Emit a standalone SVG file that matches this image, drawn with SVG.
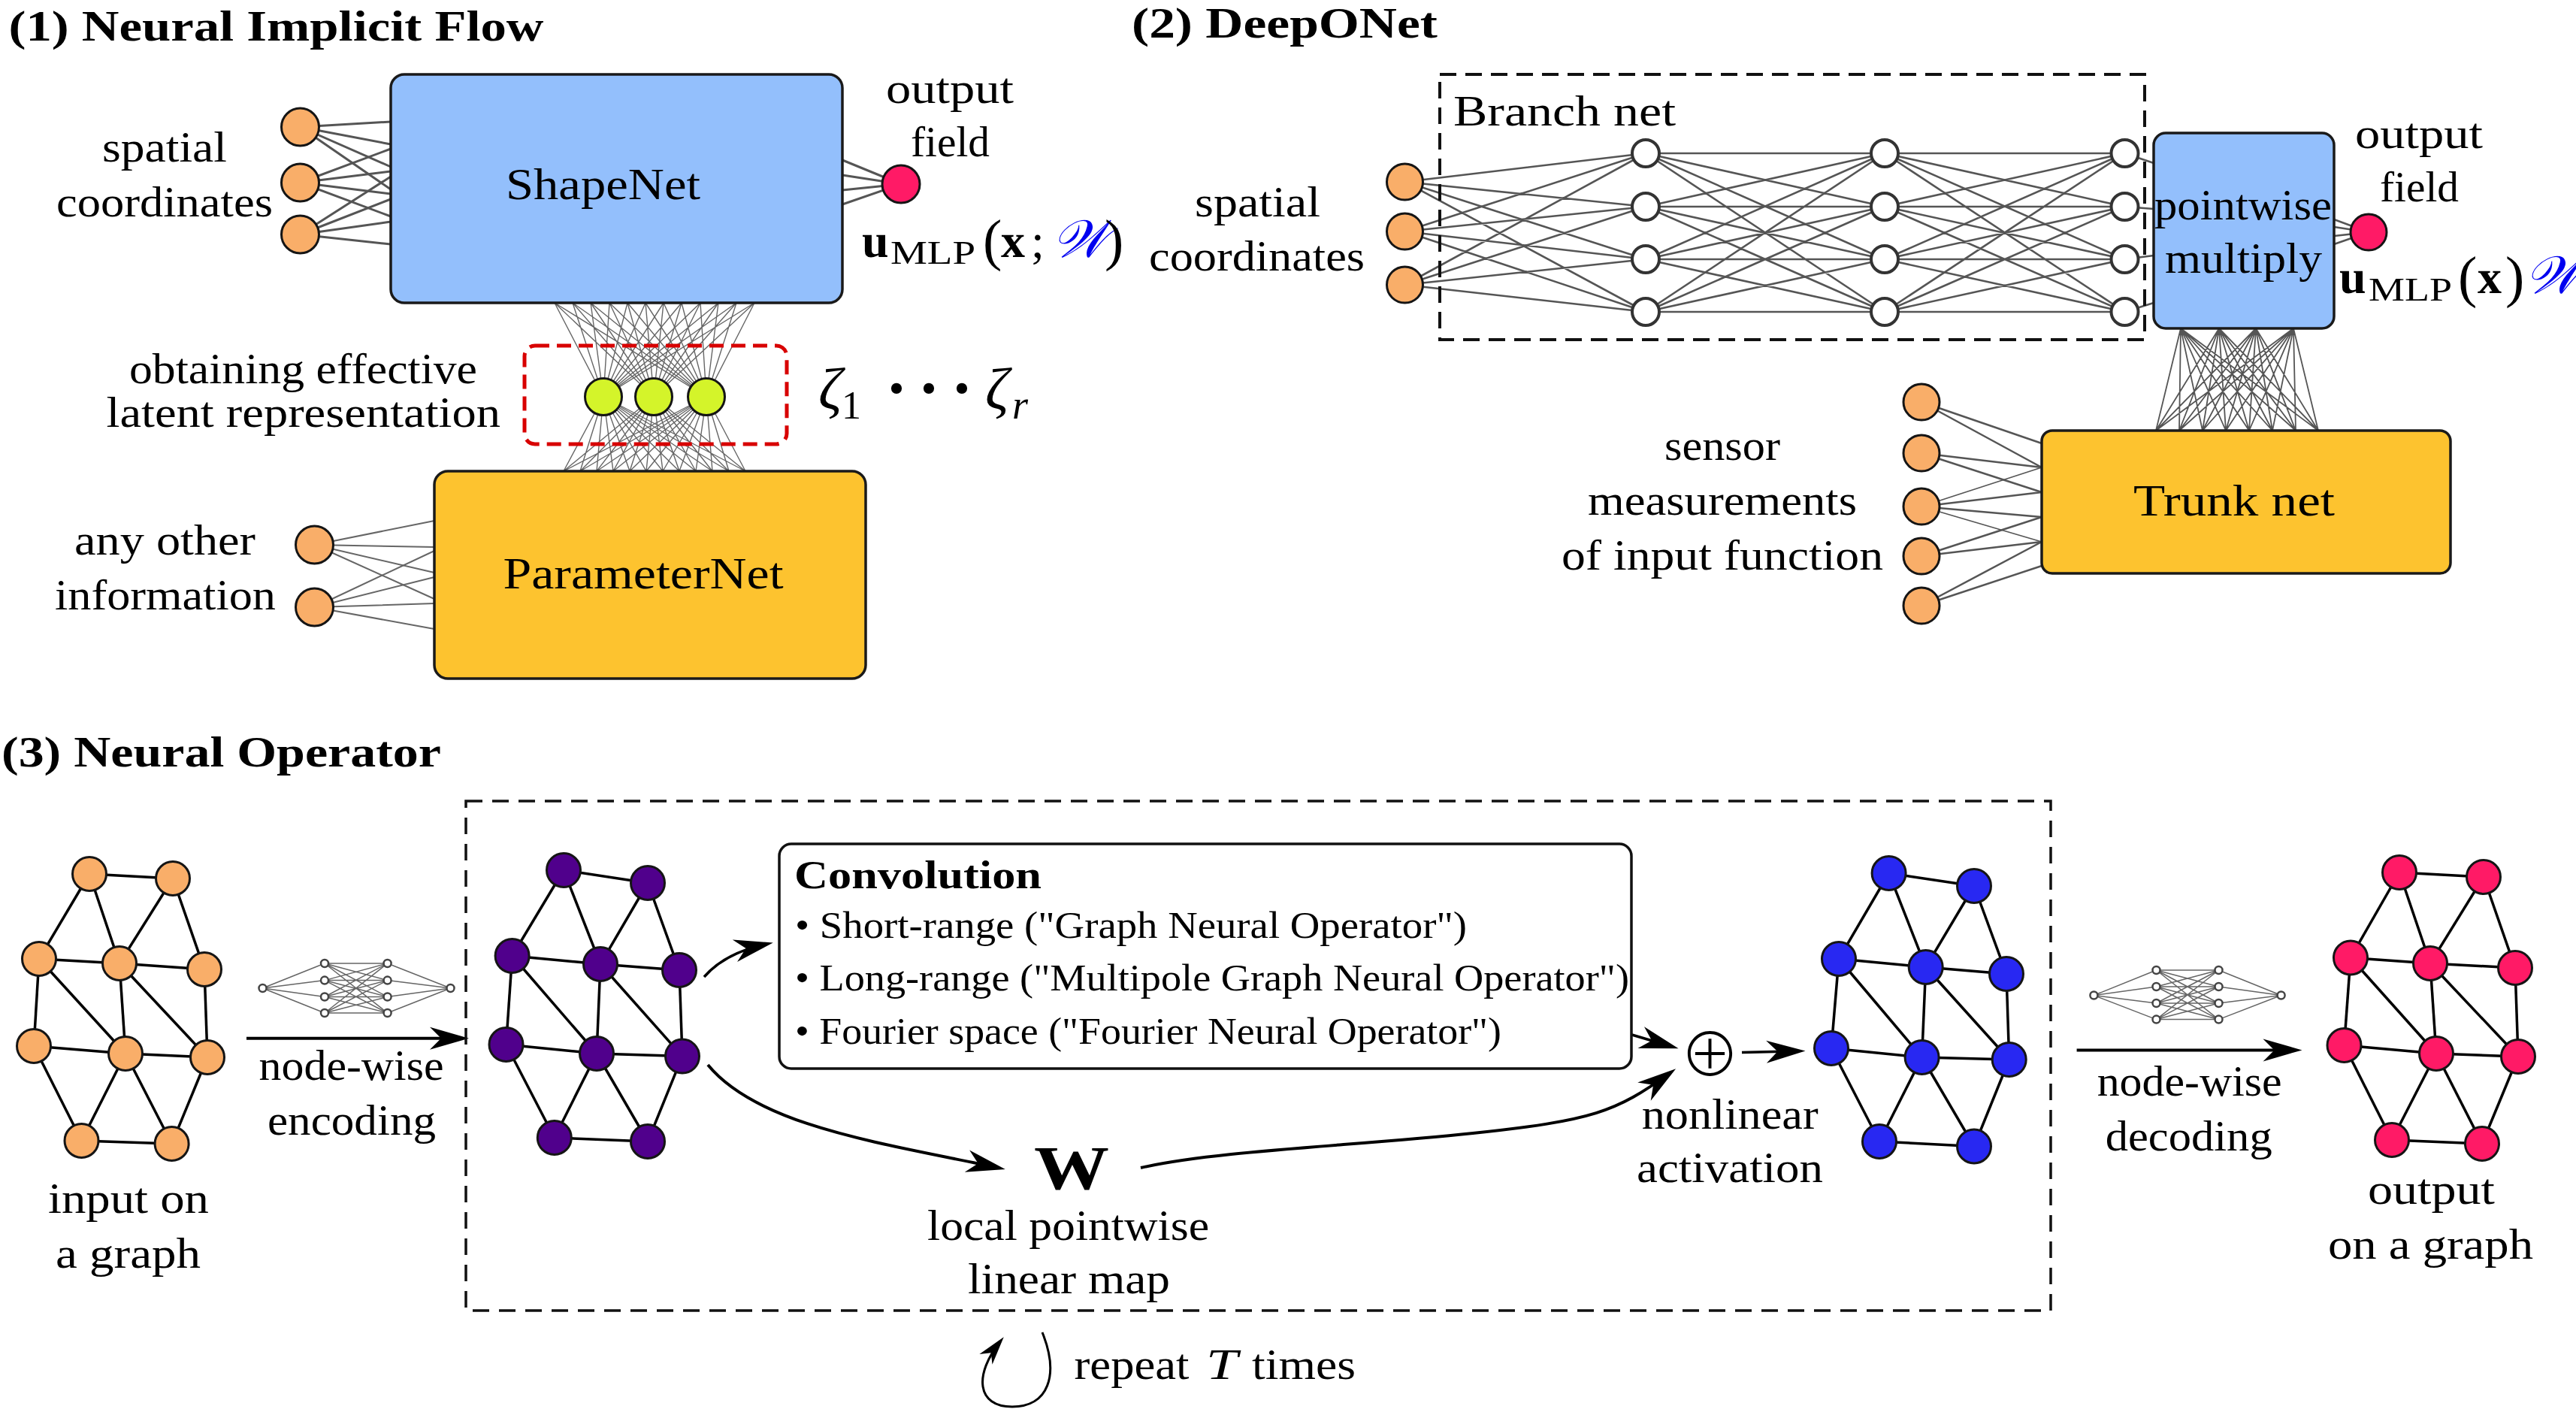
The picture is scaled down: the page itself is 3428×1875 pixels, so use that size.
<svg xmlns="http://www.w3.org/2000/svg" width="3428" height="1875" viewBox="0 0 3428 1875">
<style>
.t{font-family:"Liberation Serif",serif;font-size:56px;fill:#000}
.b{font-weight:bold}
.nn{stroke:#555;stroke-width:3;fill:none;stroke-linecap:round}
.fan{stroke:#666;stroke-width:1.4;fill:none}
.mini{stroke:#666;stroke-width:1.5;fill:none}
.edge{stroke:#000;stroke-width:3.5}
.arr{stroke:#000;stroke-width:4;fill:none}
.nd{stroke:#151515;stroke-width:3}
.org{fill:#F9AE69}
.pnk{fill:#FF1A66}
.grn{fill:#D4F42A}
.pur{fill:#50008C}
.blu{fill:#2828F2}
.wht{fill:#fff;stroke:#333;stroke-width:4}
.mn{fill:#fff;stroke:#444;stroke-width:2.5}
.box{stroke:#1a1a1a;stroke-width:3.5}
</style>
<defs>
<marker id="st" markerUnits="userSpaceOnUse" markerWidth="70" markerHeight="40" viewBox="-60 -20 70 40" refX="-10" refY="0" orient="auto">
<path d="M0,0 L-52,-15 L-37,0 L-52,15 Z" fill="#000"/>
</marker>
<marker id="st2" markerUnits="userSpaceOnUse" markerWidth="50" markerHeight="30" viewBox="-45 -15 50 30" refX="-6" refY="0" orient="auto">
<path d="M0,0 L-38,-11 L-27,0 L-38,11 Z" fill="#000"/>
</marker>
</defs>
<rect width="3428" height="1875" fill="#fff"/>

<g id="connectors">
<!-- panel 1 -->
<g class="nn">
<line x1="399.5" y1="169" x2="520" y2="162"/><line x1="399.5" y1="169" x2="520" y2="192"/><line x1="399.5" y1="169" x2="520" y2="222"/><line x1="399.5" y1="169" x2="520" y2="252"/>
<line x1="399.5" y1="243" x2="520" y2="198"/><line x1="399.5" y1="243" x2="520" y2="228"/><line x1="399.5" y1="243" x2="520" y2="258"/><line x1="399.5" y1="243" x2="520" y2="288"/>
<line x1="399.5" y1="312" x2="520" y2="235"/><line x1="399.5" y1="312" x2="520" y2="265"/><line x1="399.5" y1="312" x2="520" y2="295"/><line x1="399.5" y1="312" x2="520" y2="325"/>
<line x1="1121" y1="213" x2="1199" y2="245"/><line x1="1121" y1="233" x2="1199" y2="245"/><line x1="1121" y1="253" x2="1199" y2="245"/><line x1="1121" y1="272" x2="1199" y2="245"/>
</g>
<g class="nn" style="stroke:#666;stroke-width:2">
<line x1="418.5" y1="725" x2="578" y2="693"/><line x1="418.5" y1="725" x2="578" y2="728"/><line x1="418.5" y1="725" x2="578" y2="762"/><line x1="418.5" y1="725" x2="578" y2="797"/>
<line x1="418.5" y1="808" x2="578" y2="733"/><line x1="418.5" y1="808" x2="578" y2="768"/><line x1="418.5" y1="808" x2="578" y2="803"/><line x1="418.5" y1="808" x2="578" y2="837"/>
</g>
<path class="fan" d="M803 528L738 403L870 528M940 528L738 403M803 528L762 403L870 528M940 528L762 403M803 528L786 403L870 528M940 528L786 403M803 528L811 403L870 528M940 528L811 403M803 528L835 403L870 528M940 528L835 403M803 528L859 403L870 528M940 528L859 403M803 528L883 403L870 528M940 528L883 403M803 528L907 403L870 528M940 528L907 403M803 528L932 403L870 528M940 528L932 403M803 528L956 403L870 528M940 528L956 403M803 528L980 403L870 528M940 528L980 403M803 528L1004 403L870 528M940 528L1004 403"/>
<path class="fan" d="M803 528L750 627L870 528M940 528L750 627M803 528L772 627L870 528M940 528L772 627M803 528L794 627L870 528M940 528L794 627M803 528L816 627L870 528M940 528L816 627M803 528L838 627L870 528M940 528L838 627M803 528L860 627L870 528M940 528L860 627M803 528L882 627L870 528M940 528L882 627M803 528L904 627L870 528M940 528L904 627M803 528L926 627L870 528M940 528L926 627M803 528L948 627L870 528M940 528L948 627M803 528L970 627L870 528M940 528L970 627M803 528L992 627L870 528M940 528L992 627"/>
<!-- panel 2 branch -->
<path class="nn" style="stroke-width:2.6" d="M1869.5 242L2190 204L1869.5 308M1869.5 379L2190 204M1869.5 242L2190 275L1869.5 308M1869.5 379L2190 275M1869.5 242L2190 345L1869.5 308M1869.5 379L2190 345M1869.5 242L2190 415L1869.5 308M1869.5 379L2190 415
M2190 204L2508 204L2190 275M2190 345L2508 204L2190 415M2190 204L2508 275L2190 275M2190 345L2508 275L2190 415M2190 204L2508 345L2190 275M2190 345L2508 345L2190 415M2190 204L2508 415L2190 275M2190 345L2508 415L2190 415
M2508 204L2827.5 204L2508 275M2508 345L2827.5 204L2508 415M2508 204L2827.5 275L2508 275M2508 345L2827.5 275L2508 415M2508 204L2827.5 345L2508 275M2508 345L2827.5 345L2508 415M2508 204L2827.5 415L2508 275M2508 345L2827.5 415L2508 415
M2827.5 204L2866 217M2827.5 275L2866 278M2827.5 345L2866 340M2827.5 415L2866 403"/>
<g class="nn" style="stroke-width:2.5">
<line x1="3106" y1="292" x2="3152" y2="309"/><line x1="3106" y1="302" x2="3152" y2="309"/><line x1="3106" y1="314" x2="3152" y2="309"/><line x1="3106" y1="325" x2="3152" y2="309"/>
<line x1="2557" y1="535" x2="2717" y2="590"/><line x1="2557" y1="535" x2="2717" y2="622"/>
<line x1="2557" y1="603" x2="2717" y2="622"/><line x1="2557" y1="603" x2="2717" y2="655"/>
<line x1="2557" y1="674" x2="2717" y2="622" style="stroke-width:1.6"/><line x1="2557" y1="674" x2="2717" y2="655"/><line x1="2557" y1="674" x2="2717" y2="688"/><line x1="2557" y1="674" x2="2717" y2="721" style="stroke-width:1.6"/>
<line x1="2557" y1="740" x2="2717" y2="688"/><line x1="2557" y1="740" x2="2717" y2="721"/>
<line x1="2557" y1="806" x2="2717" y2="721"/><line x1="2557" y1="806" x2="2717" y2="753"/>
</g>
<path class="fan" style="stroke:#555;stroke-width:1.8" d="M2869 573L2902 437L2900 573M2931 573L2902 437L2962 573M2993 573L2902 437L3024 573M3055 573L2902 437L3085 573
M2869 573L2953 437L2900 573M2931 573L2953 437L2962 573M2993 573L2953 437L3024 573M3055 573L2953 437L3085 573
M2869 573L3002 437L2900 573M2931 573L3002 437L2962 573M2993 573L3002 437L3024 573M3055 573L3002 437L3085 573
M2869 573L3052 437L2900 573M2931 573L3052 437L2962 573M2993 573L3052 437L3024 573M3055 573L3052 437L3085 573"/>
<!-- panel 3 graph edges -->
<g class="edge">
<line x1="119" y1="1163" x2="230" y2="1169"/><line x1="119" y1="1163" x2="52" y2="1276"/><line x1="119" y1="1163" x2="159" y2="1282"/><line x1="230" y1="1169" x2="159" y2="1282"/><line x1="230" y1="1169" x2="272" y2="1290"/><line x1="52" y1="1276" x2="159" y2="1282"/><line x1="159" y1="1282" x2="272" y2="1290"/><line x1="52" y1="1276" x2="45" y2="1392"/><line x1="52" y1="1276" x2="167" y2="1402"/><line x1="159" y1="1282" x2="167" y2="1402"/><line x1="159" y1="1282" x2="276" y2="1407"/><line x1="272" y1="1290" x2="276" y2="1407"/><line x1="45" y1="1392" x2="167" y2="1402"/><line x1="167" y1="1402" x2="276" y2="1407"/><line x1="45" y1="1392" x2="108.5" y2="1518"/><line x1="167" y1="1402" x2="108.5" y2="1518"/><line x1="167" y1="1402" x2="228.6" y2="1522"/><line x1="276" y1="1407" x2="228.6" y2="1522"/><line x1="108.5" y1="1518" x2="228.6" y2="1522"/>
<line x1="750" y1="1158" x2="862" y2="1175"/><line x1="750" y1="1158" x2="681.6" y2="1272"/><line x1="750" y1="1158" x2="799" y2="1283"/><line x1="862" y1="1175" x2="799" y2="1283"/><line x1="862" y1="1175" x2="904" y2="1291"/><line x1="681.6" y1="1272" x2="799" y2="1283"/><line x1="799" y1="1283" x2="904" y2="1291"/><line x1="681.6" y1="1272" x2="673.5" y2="1390"/><line x1="681.6" y1="1272" x2="794" y2="1402"/><line x1="799" y1="1283" x2="794" y2="1402"/><line x1="799" y1="1283" x2="908" y2="1405.6"/><line x1="904" y1="1291" x2="908" y2="1405.6"/><line x1="673.5" y1="1390" x2="794" y2="1402"/><line x1="794" y1="1402" x2="908" y2="1405.6"/><line x1="673.5" y1="1390" x2="737.8" y2="1514"/><line x1="794" y1="1402" x2="737.8" y2="1514"/><line x1="794" y1="1402" x2="862" y2="1519"/><line x1="908" y1="1405.6" x2="862" y2="1519"/><line x1="737.8" y1="1514" x2="862" y2="1519"/>
<line x1="2513.6" y1="1162" x2="2627" y2="1179"/><line x1="2513.6" y1="1162" x2="2447" y2="1276"/><line x1="2513.6" y1="1162" x2="2562.7" y2="1287"/><line x1="2627" y1="1179" x2="2562.7" y2="1287"/><line x1="2627" y1="1179" x2="2670" y2="1296"/><line x1="2447" y1="1276" x2="2562.7" y2="1287"/><line x1="2562.7" y1="1287" x2="2670" y2="1296"/><line x1="2447" y1="1276" x2="2437" y2="1395"/><line x1="2447" y1="1276" x2="2557.6" y2="1407"/><line x1="2562.7" y1="1287" x2="2557.6" y2="1407"/><line x1="2562.7" y1="1287" x2="2673.7" y2="1410"/><line x1="2670" y1="1296" x2="2673.7" y2="1410"/><line x1="2437" y1="1395" x2="2557.6" y2="1407"/><line x1="2557.6" y1="1407" x2="2673.7" y2="1410"/><line x1="2437" y1="1395" x2="2501" y2="1519"/><line x1="2557.6" y1="1407" x2="2501" y2="1519"/><line x1="2557.6" y1="1407" x2="2627" y2="1525.5"/><line x1="2673.7" y1="1410" x2="2627" y2="1525.5"/><line x1="2501" y1="1519" x2="2627" y2="1525.5"/>
<line x1="3193" y1="1161" x2="3305" y2="1167"/><line x1="3193" y1="1161" x2="3128" y2="1274.5"/><line x1="3193" y1="1161" x2="3234" y2="1282"/><line x1="3305" y1="1167" x2="3234" y2="1282"/><line x1="3305" y1="1167" x2="3347" y2="1288"/><line x1="3128" y1="1274.5" x2="3234" y2="1282"/><line x1="3234" y1="1282" x2="3347" y2="1288"/><line x1="3128" y1="1274.5" x2="3119.5" y2="1391"/><line x1="3128" y1="1274.5" x2="3242" y2="1402"/><line x1="3234" y1="1282" x2="3242" y2="1402"/><line x1="3234" y1="1282" x2="3351" y2="1406"/><line x1="3347" y1="1288" x2="3351" y2="1406"/><line x1="3119.5" y1="1391" x2="3242" y2="1402"/><line x1="3242" y1="1402" x2="3351" y2="1406"/><line x1="3119.5" y1="1391" x2="3183" y2="1517"/><line x1="3242" y1="1402" x2="3183" y2="1517"/><line x1="3242" y1="1402" x2="3303" y2="1522"/><line x1="3351" y1="1406" x2="3303" y2="1522"/><line x1="3183" y1="1517" x2="3303" y2="1522"/>
</g>
<!-- mini nets -->
<path class="mini" d="M432 1282L349.5 1315L432 1304.6M432 1326.5L349.5 1315L432 1348
M432 1282L515.6 1282L432 1304.6M432 1326.5L515.6 1282L432 1348M432 1282L515.6 1304.6L432 1304.6M432 1326.5L515.6 1304.6L432 1348M432 1282L515.6 1326.5L432 1304.6M432 1326.5L515.6 1326.5L432 1348M432 1282L515.6 1348L432 1304.6M432 1326.5L515.6 1348L432 1348
M515.6 1282L599.5 1315L515.6 1304.6M515.6 1326.5L599.5 1315L515.6 1348"/>
<path class="mini" d="M2869.5 1291L2786.4 1324.5L2869.5 1313M2869.5 1335L2786.4 1324.5L2869.5 1356.6
M2869.5 1291L2952.5 1291L2869.5 1313M2869.5 1335L2952.5 1291L2869.5 1356.6M2869.5 1291L2952.5 1313L2869.5 1313M2869.5 1335L2952.5 1313L2869.5 1356.6M2869.5 1291L2952.5 1335L2869.5 1313M2869.5 1335L2952.5 1335L2869.5 1356.6M2869.5 1291L2952.5 1356.6L2869.5 1313M2869.5 1335L2952.5 1356.6L2869.5 1356.6
M2952.5 1291L3035.6 1324.5L2952.5 1313M2952.5 1335L3035.6 1324.5L2952.5 1356.6"/>
<!-- arrows -->
<path class="arr" d="M328 1381.7 L614 1381.7" marker-end="url(#st)"/>
<path class="arr" d="M2763.6 1397.4 L3053.5 1397.4" marker-end="url(#st)"/>
<path class="arr" style="stroke-width:3.5" d="M937 1300 Q965 1268 1019 1256.5" marker-end="url(#st)"/>
<path class="arr" style="stroke-width:3.5" d="M2170 1376.5 L2224 1392.5" marker-end="url(#st)"/>
<path class="arr" d="M942 1417 C1010 1500 1180 1522 1328 1554" marker-end="url(#st)"/>
<path class="arr" d="M1518 1554 C1620 1531 1800 1525 1960 1508 S2150 1480 2222 1428" marker-end="url(#st)"/>
<path class="arr" style="stroke-width:3.5" d="M2318 1400.5 L2392.5 1398.7" marker-end="url(#st)"/>
<path class="arr" style="stroke-width:3" d="M1387 1773 C1410 1830 1395 1872 1347 1872 C1300 1872 1295 1830 1332 1784" marker-end="url(#st2)"/>
</g>

<!-- ===== Panel 1 ===== -->
<text class="t b" x="11.5" y="54" textLength="712" lengthAdjust="spacingAndGlyphs">(1) Neural Implicit Flow</text>
<g id="spatial-inputs-1">
<circle class="nd org" cx="399.5" cy="169" r="25"/>
<circle class="nd org" cx="399.5" cy="243" r="25"/>
<circle class="nd org" cx="399.5" cy="312" r="25"/>
<text class="t" x="136" y="215" textLength="166" lengthAdjust="spacingAndGlyphs">spatial</text>
<text class="t" x="75" y="288" textLength="288" lengthAdjust="spacingAndGlyphs">coordinates</text>
</g>
<g id="shapenet">
<rect class="box" x="520" y="99" width="601" height="304" rx="18" fill="#93BFFC"/>
<text class="t" x="673" y="265" style="font-size:60px" textLength="259" lengthAdjust="spacingAndGlyphs">ShapeNet</text>
</g>
<g id="output-1">
<circle class="nd pnk" cx="1199" cy="245" r="25"/>
<text class="t" x="1179" y="137" textLength="170" lengthAdjust="spacingAndGlyphs">output</text>
<text class="t" x="1212" y="208" textLength="105" lengthAdjust="spacingAndGlyphs">field</text>
<text class="t"><tspan x="1147" y="342" font-size="64" font-weight="bold">u</tspan><tspan x="1185" y="351" font-size="44" textLength="113" lengthAdjust="spacingAndGlyphs">MLP</tspan><tspan x="1308" y="345" font-size="76">(</tspan><tspan x="1332" y="342" font-size="64" font-weight="bold">x</tspan><tspan x="1372" y="342" font-size="64">;</tspan><tspan x="1400" y="342" font-size="70" font-style="italic" fill="#0000F0" style="font-family:'DejaVu Serif','DejaVu Sans',serif">𝒲</tspan><tspan x="1470" y="345" font-size="76">)</tspan></text>
</g>
<g id="latent">
<rect x="698" y="460" width="349" height="131" rx="14" fill="none" stroke="#D80000" stroke-width="5" stroke-dasharray="19 10"/>
<circle class="nd grn" cx="803" cy="528" r="24.5"/>
<circle class="nd grn" cx="870" cy="528" r="24.5"/>
<circle class="nd grn" cx="940" cy="528" r="24.5"/>
<text class="t" x="172" y="510" textLength="463" lengthAdjust="spacingAndGlyphs">obtaining effective</text>
<text class="t" x="141.5" y="568" textLength="524.5" lengthAdjust="spacingAndGlyphs">latent representation</text>
<text class="t" style="font-size:78px"><tspan x="1089" y="544" font-style="italic">ζ</tspan><tspan x="1120" y="557" font-size="52">1</tspan><tspan x="1173" y="557" font-size="120">·</tspan><tspan x="1216" y="557" font-size="120">·</tspan><tspan x="1260" y="557" font-size="120">·</tspan><tspan x="1311" y="544" font-style="italic">ζ</tspan><tspan x="1347" y="557" font-size="54" font-style="italic">r</tspan></text>
</g>
<g id="other-info">
<circle class="nd org" cx="418.5" cy="725" r="25"/>
<circle class="nd org" cx="418.5" cy="808" r="25"/>
<text class="t" x="99" y="738" textLength="241" lengthAdjust="spacingAndGlyphs">any other</text>
<text class="t" x="73" y="811" textLength="294" lengthAdjust="spacingAndGlyphs">information</text>
</g>
<g id="parameternet">
<rect class="box" x="578" y="627" width="574" height="276" rx="18" fill="#FDC32F"/>
<text class="t" x="669.5" y="783" style="font-size:60px" textLength="373" lengthAdjust="spacingAndGlyphs">ParameterNet</text>
</g>

<!-- ===== Panel 2 ===== -->
<text class="t b" x="1506" y="50" textLength="407" lengthAdjust="spacingAndGlyphs">(2) DeepONet</text>
<g id="branch-net">
<rect x="1916" y="99" width="938" height="353" fill="none" stroke="#111" stroke-width="4" stroke-dasharray="22 12"/>
<text class="t" x="1934" y="167" style="font-size:58px" textLength="296" lengthAdjust="spacingAndGlyphs">Branch net</text>
<circle class="wht" cx="2190" cy="204" r="18"/><circle class="wht" cx="2190" cy="275" r="18"/><circle class="wht" cx="2190" cy="345" r="18"/><circle class="wht" cx="2190" cy="415" r="18"/>
<circle class="wht" cx="2508" cy="204" r="18"/><circle class="wht" cx="2508" cy="275" r="18"/><circle class="wht" cx="2508" cy="345" r="18"/><circle class="wht" cx="2508" cy="415" r="18"/>
<circle class="wht" cx="2827.5" cy="204" r="18"/><circle class="wht" cx="2827.5" cy="275" r="18"/><circle class="wht" cx="2827.5" cy="345" r="18"/><circle class="wht" cx="2827.5" cy="415" r="18"/>
</g>
<g id="spatial-inputs-2">
<circle class="nd org" cx="1869.5" cy="242" r="24"/>
<circle class="nd org" cx="1869.5" cy="308" r="24"/>
<circle class="nd org" cx="1869.5" cy="379" r="24"/>
<text class="t" x="1590" y="288" textLength="167" lengthAdjust="spacingAndGlyphs">spatial</text>
<text class="t" x="1529" y="360" textLength="287" lengthAdjust="spacingAndGlyphs">coordinates</text>
</g>
<g id="pointwise-multiply">
<rect class="box" x="2866" y="177" width="240" height="260" rx="16" fill="#93BFFC"/>
<text class="t" x="2867" y="292" textLength="236" lengthAdjust="spacingAndGlyphs">pointwise</text>
<text class="t" x="2881" y="363" textLength="209" lengthAdjust="spacingAndGlyphs">multiply</text>
</g>
<g id="output-2">
<circle class="nd pnk" cx="3152" cy="309" r="24"/>
<text class="t" x="3134" y="197" textLength="170" lengthAdjust="spacingAndGlyphs">output</text>
<text class="t" x="3167" y="268" textLength="105" lengthAdjust="spacingAndGlyphs">field</text>
<text class="t"><tspan x="3113" y="390" font-size="64" font-weight="bold">u</tspan><tspan x="3152" y="400" font-size="44" textLength="111" lengthAdjust="spacingAndGlyphs">MLP</tspan><tspan x="3271" y="394" font-size="76">(</tspan><tspan x="3297" y="390" font-size="64" font-weight="bold">x</tspan><tspan x="3334" y="394" font-size="76">)</tspan><tspan x="3360" y="390" font-size="70" font-style="italic" fill="#0000F0" style="font-family:'DejaVu Serif','DejaVu Sans',serif">𝒲</tspan></text>
</g>
<g id="sensors">
<circle class="nd org" cx="2557" cy="535" r="24"/><circle class="nd org" cx="2557" cy="603" r="24"/><circle class="nd org" cx="2557" cy="674" r="24"/><circle class="nd org" cx="2557" cy="740" r="24"/><circle class="nd org" cx="2557" cy="806" r="24"/>
<text class="t" x="2215" y="612" textLength="154" lengthAdjust="spacingAndGlyphs">sensor</text>
<text class="t" x="2113" y="685" textLength="358" lengthAdjust="spacingAndGlyphs">measurements</text>
<text class="t" x="2078" y="758" textLength="428" lengthAdjust="spacingAndGlyphs">of input function</text>
</g>
<g id="trunk-net">
<rect class="box" x="2717" y="573" width="544" height="190" rx="14" fill="#FDC32F"/>
<text class="t" x="2839" y="686" style="font-size:60px" textLength="268" lengthAdjust="spacingAndGlyphs">Trunk net</text>
</g>

<!-- ===== Panel 3 ===== -->
<text class="t b" x="2" y="1020" style="font-size:58px" textLength="585" lengthAdjust="spacingAndGlyphs">(3) Neural Operator</text>
<g id="input-graph">
<circle class="nd org" cx="119" cy="1163" r="22.5"/><circle class="nd org" cx="230" cy="1169" r="22.5"/><circle class="nd org" cx="52" cy="1276" r="22.5"/><circle class="nd org" cx="159" cy="1282" r="22.5"/><circle class="nd org" cx="272" cy="1290" r="22.5"/><circle class="nd org" cx="45" cy="1392" r="22.5"/><circle class="nd org" cx="167" cy="1402" r="22.5"/><circle class="nd org" cx="276" cy="1407" r="22.5"/><circle class="nd org" cx="108.5" cy="1518" r="22.5"/><circle class="nd org" cx="228.6" cy="1522" r="22.5"/>
<text class="t" x="64" y="1614" textLength="214" lengthAdjust="spacingAndGlyphs">input on</text>
<text class="t" x="74" y="1687" textLength="193" lengthAdjust="spacingAndGlyphs">a graph</text>
</g>
<g id="encoder">
<circle class="mn" cx="349.5" cy="1315" r="5"/>
<circle class="mn" cx="432" cy="1282" r="5"/><circle class="mn" cx="432" cy="1304.6" r="5"/><circle class="mn" cx="432" cy="1326.5" r="5"/><circle class="mn" cx="432" cy="1348" r="5"/>
<circle class="mn" cx="515.6" cy="1282" r="5"/><circle class="mn" cx="515.6" cy="1304.6" r="5"/><circle class="mn" cx="515.6" cy="1326.5" r="5"/><circle class="mn" cx="515.6" cy="1348" r="5"/>
<circle class="mn" cx="599.5" cy="1315" r="5"/>
<text class="t" x="344.6" y="1437" textLength="246" lengthAdjust="spacingAndGlyphs">node-wise</text>
<text class="t" x="356" y="1510" textLength="224" lengthAdjust="spacingAndGlyphs">encoding</text>
</g>
<g id="operator-layer">
<rect x="620" y="1066" width="2109" height="678" fill="none" stroke="#111" stroke-width="3.5" stroke-dasharray="22 13"/>
</g>
<g id="latent-graph">
<circle class="nd pur" cx="750" cy="1158" r="22.5"/><circle class="nd pur" cx="862" cy="1175" r="22.5"/><circle class="nd pur" cx="681.6" cy="1272" r="22.5"/><circle class="nd pur" cx="799" cy="1283" r="22.5"/><circle class="nd pur" cx="904" cy="1291" r="22.5"/><circle class="nd pur" cx="673.5" cy="1390" r="22.5"/><circle class="nd pur" cx="794" cy="1402" r="22.5"/><circle class="nd pur" cx="908" cy="1405.6" r="22.5"/><circle class="nd pur" cx="737.8" cy="1514" r="22.5"/><circle class="nd pur" cx="862" cy="1519" r="22.5"/>
</g>
<g id="convolution">
<rect x="1037" y="1123" width="1134" height="299" rx="16" fill="#fff" stroke="#111" stroke-width="3.5"/>
<text class="t b" x="1057" y="1181.6" style="font-size:52px" textLength="329" lengthAdjust="spacingAndGlyphs">Convolution</text>
<text class="t" x="1058" y="1247.5" style="font-size:50px" textLength="894" lengthAdjust="spacingAndGlyphs">• Short-range ("Graph Neural Operator")</text>
<text class="t" x="1058" y="1318" style="font-size:50px" textLength="1110" lengthAdjust="spacingAndGlyphs">• Long-range ("Multipole Graph Neural Operator")</text>
<text class="t" x="1058" y="1389" style="font-size:50px" textLength="940" lengthAdjust="spacingAndGlyphs">• Fourier space ("Fourier Neural Operator")</text>
</g>
<g id="linear-map">
<text class="t b" x="1376" y="1582" style="font-size:82px" textLength="100" lengthAdjust="spacingAndGlyphs">W</text>
<text class="t" x="1234" y="1650" textLength="375" lengthAdjust="spacingAndGlyphs">local pointwise</text>
<text class="t" x="1288" y="1721" textLength="269" lengthAdjust="spacingAndGlyphs">linear map</text>
</g>
<g id="sum">
<text x="2275.4" y="1431.5" text-anchor="middle" font-size="80" font-weight="300" style="font-family:'Noto Sans CJK JP','DejaVu Sans',sans-serif">⊕</text>
<text class="t" x="2184.7" y="1501.5" textLength="235" lengthAdjust="spacingAndGlyphs">nonlinear</text>
<text class="t" x="2178" y="1573" textLength="248" lengthAdjust="spacingAndGlyphs">activation</text>
</g>
<g id="activated-graph">
<circle class="nd blu" cx="2513.6" cy="1162" r="22.5"/><circle class="nd blu" cx="2627" cy="1179" r="22.5"/><circle class="nd blu" cx="2447" cy="1276" r="22.5"/><circle class="nd blu" cx="2562.7" cy="1287" r="22.5"/><circle class="nd blu" cx="2670" cy="1296" r="22.5"/><circle class="nd blu" cx="2437" cy="1395" r="22.5"/><circle class="nd blu" cx="2557.6" cy="1407" r="22.5"/><circle class="nd blu" cx="2673.7" cy="1410" r="22.5"/><circle class="nd blu" cx="2501" cy="1519" r="22.5"/><circle class="nd blu" cx="2627" cy="1525.5" r="22.5"/>
</g>
<g id="decoder">
<circle class="mn" cx="2786.4" cy="1324.5" r="5"/>
<circle class="mn" cx="2869.5" cy="1291" r="5"/><circle class="mn" cx="2869.5" cy="1313" r="5"/><circle class="mn" cx="2869.5" cy="1335" r="5"/><circle class="mn" cx="2869.5" cy="1356.6" r="5"/>
<circle class="mn" cx="2952.5" cy="1291" r="5"/><circle class="mn" cx="2952.5" cy="1313" r="5"/><circle class="mn" cx="2952.5" cy="1335" r="5"/><circle class="mn" cx="2952.5" cy="1356.6" r="5"/>
<circle class="mn" cx="3035.6" cy="1324.5" r="5"/>
<text class="t" x="2790.7" y="1458" textLength="246" lengthAdjust="spacingAndGlyphs">node-wise</text>
<text class="t" x="2801.7" y="1530.6" textLength="222" lengthAdjust="spacingAndGlyphs">decoding</text>
</g>
<g id="output-graph">
<circle class="nd pnk" cx="3193" cy="1161" r="22.5"/><circle class="nd pnk" cx="3305" cy="1167" r="22.5"/><circle class="nd pnk" cx="3128" cy="1274.5" r="22.5"/><circle class="nd pnk" cx="3234" cy="1282" r="22.5"/><circle class="nd pnk" cx="3347" cy="1288" r="22.5"/><circle class="nd pnk" cx="3119.5" cy="1391" r="22.5"/><circle class="nd pnk" cx="3242" cy="1402" r="22.5"/><circle class="nd pnk" cx="3351" cy="1406" r="22.5"/><circle class="nd pnk" cx="3183" cy="1517" r="22.5"/><circle class="nd pnk" cx="3303" cy="1522" r="22.5"/>
<text class="t" x="3151" y="1602" textLength="169" lengthAdjust="spacingAndGlyphs">output</text>
<text class="t" x="3098" y="1675" textLength="273" lengthAdjust="spacingAndGlyphs">on a graph</text>
</g>
<g id="repeat">
<text class="t" style="font-size:58px"><tspan x="1429.5" y="1835" textLength="153" lengthAdjust="spacingAndGlyphs">repeat</tspan><tspan x="1605" y="1835" font-style="italic" textLength="42" lengthAdjust="spacingAndGlyphs">T</tspan><tspan x="1666" y="1835" textLength="138" lengthAdjust="spacingAndGlyphs">times</tspan></text>
</g>
</svg>
